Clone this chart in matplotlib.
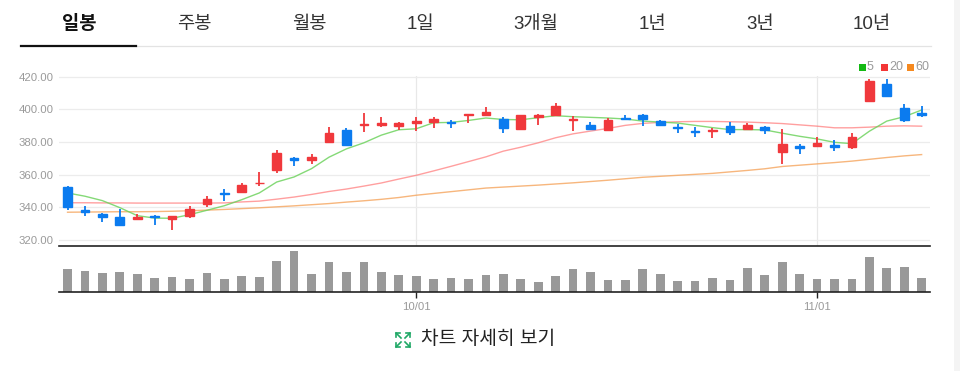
import matplotlib
matplotlib.use("Agg")
import matplotlib.pyplot as plt
from matplotlib.lines import Line2D
from matplotlib.patches import Rectangle

plt.rcParams['font.family'] = ['Liberation Sans', 'Noto Sans CJK KR', 'DejaVu Sans']

# daily candles (50 trading days), prices
opens = [352.3, 338.6, 336.1, 334.1, 333.1, 334.9, 332.9, 334.5, 342.1, 348.6,
         349.6, 354.8, 362.8, 370.5, 369.0, 379.9, 387.1, 390.4, 390.6, 389.7,
         391.4, 392.2, 392.4, 396.7, 396.7, 394.3, 387.9, 395.3, 396.5, 393.2,
         390.6, 387.5, 394.7, 396.5, 392.6, 389.3, 386.7, 386.7, 389.5, 388.2,
         389.3, 373.8, 377.3, 377.7, 378.3, 376.7, 404.9, 415.3, 400.8, 397.5]
highs = [352.9, 340.6, 336.3, 339.0, 335.9, 335.1, 334.9, 341.0, 347.2, 351.5,
         354.6, 361.7, 374.8, 371.1, 372.9, 389.3, 388.3, 397.5, 395.5, 392.4,
         395.3, 395.5, 393.6, 397.3, 401.2, 395.1, 396.7, 397.3, 403.7, 395.9,
         392.4, 394.5, 396.7, 396.9, 393.2, 391.2, 389.1, 388.6, 392.2, 391.5,
         390.1, 388.0, 378.8, 383.3, 381.0, 385.8, 418.6, 418.8, 403.1, 401.9]
lows = [338.2, 334.9, 330.8, 328.3, 332.9, 329.1, 325.9, 333.6, 340.0, 344.1,
        349.2, 352.9, 361.3, 365.5, 366.8, 379.3, 377.4, 386.3, 389.3, 387.3,
        386.7, 388.5, 388.5, 391.8, 396.3, 385.4, 387.5, 390.4, 396.1, 386.5,
        387.3, 387.1, 393.2, 389.7, 389.5, 385.6, 383.0, 382.2, 384.1, 387.2,
        385.2, 366.6, 372.6, 376.7, 374.6, 375.5, 404.5, 407.6, 392.4, 395.3]
closes = [340.2, 336.9, 333.9, 328.9, 334.3, 334.1, 334.7, 339.2, 345.3, 348.2,
          353.5, 355.2, 373.0, 369.2, 371.1, 385.8, 378.1, 391.0, 391.6, 391.8,
          392.6, 393.8, 391.6, 397.1, 398.6, 388.3, 396.3, 396.7, 401.8, 393.8,
          387.9, 393.2, 394.0, 394.0, 390.6, 388.7, 386.1, 387.3, 386.0, 390.3,
          387.6, 379.0, 376.5, 379.6, 376.9, 383.1, 417.1, 408.0, 393.2, 396.7]

# moving averages
ma5 = [348.8, 346.8, 344.1, 339.8, 334.9, 333.4, 333.3, 335.5, 338.2, 341.0,
       344.7, 348.8, 355.5, 358.6, 363.7, 370.7, 375.8, 379.5, 384.2, 387.5,
       388.1, 391.8, 392.0, 393.2, 394.7, 393.8, 393.6, 394.9, 396.1, 395.5,
       395.1, 394.7, 394.1, 392.8, 392.2, 391.6, 390.2, 388.8, 387.6, 387.6,
       387.4, 385.4, 383.5, 381.9, 379.8, 379.0, 386.6, 392.8, 395.5, 399.6]
ma20 = [342.8, 342.8, 342.7, 342.7, 342.6, 342.6, 342.6, 342.6, 342.6, 342.7,
        343.3, 343.8, 345.0, 346.3, 347.9, 349.7, 351.2, 353.0, 354.9, 357.3,
        359.6, 362.3, 365.1, 368.0, 370.9, 374.4, 376.8, 379.5, 382.6, 385.0,
        386.7, 388.3, 390.2, 391.4, 392.0, 392.4, 392.6, 392.6, 392.4, 392.2,
        391.8, 391.3, 390.5, 389.7, 388.7, 388.7, 389.1, 389.7, 389.9, 389.7]
ma60 = [337.0, 337.1, 337.2, 337.3, 337.3, 337.4, 337.6, 337.9, 338.3, 338.7,
        339.2, 339.7, 340.3, 340.9, 341.6, 342.3, 343.2, 344.0, 344.9, 346.0,
        347.4, 348.5, 349.6, 350.7, 351.8, 352.4, 353.0, 353.6, 354.3, 355.0,
        355.8, 356.6, 357.5, 358.4, 359.0, 359.6, 360.2, 360.8, 361.7, 362.6,
        363.6, 365.0, 365.8, 366.6, 367.4, 368.3, 369.4, 370.5, 371.5, 372.3]

# volume (thousand shares)
volume = [233, 213, 193, 203, 183, 143, 150, 133, 193, 130,
          163, 153, 313, 413, 183, 303, 203, 300, 203, 173,
          163, 133, 143, 130, 173, 183, 133, 103, 163, 230,
          203, 123, 123, 230, 183, 116, 116, 143, 123, 243,
          170, 303, 183, 130, 133, 133, 353, 243, 253, 143]

tick_pos = [20, 43]
tick_labels = ["10/01", "11/01"]
tabs = ["일봉", "주봉", "월봉", "1일", "3개월", "1년", "3년", "10년"]
tab_x = [79, 194, 309, 420, 536, 652, 760, 872]

RED = "#f0383c"
BLUE = "#0b7bef"
W, H = 960, 371


def rect(x0, y0, x1, y1):
    return [x0 / W, 1 - y1 / H, (x1 - x0) / W, (y1 - y0) / H]


def fx(x):
    return x / W


def fy(y):
    return 1 - y / H


fig = plt.figure(figsize=(9.6, 3.71), dpi=100)

# price panel
ax = fig.add_axes(rect(59, 76.2, 930, 245.7))
x = list(range(len(opens)))
colors = [RED if c >= o else BLUE for o, c in zip(opens, closes)]
bottoms = [min(o, c) for o, c in zip(opens, closes)]
heights = [abs(c - o) for o, c in zip(opens, closes)]

ax.set_yticks([320, 340, 360, 380, 400, 420])
ax.set_yticklabels([f"{v:.2f}" for v in [320, 340, 360, 380, 400, 420]])
ax.grid(axis='y', color='#ececec', lw=0.9)
for t in tick_pos:
    ax.axvline(t, color='#e8e8e8', lw=0.9, zorder=0)
ax.plot(x, ma60, color='#f5a45c', lw=1.0, alpha=0.8)
ax.plot(x, ma20, color='#f77', lw=1.0, alpha=0.7)
ax.plot(x, ma5, color='#6fd35f', lw=1.0, alpha=0.85)
ax.vlines(x, lows, highs, color=colors, lw=1.3, zorder=3)
ax.bar(x, heights, bottom=bottoms, width=0.5, color=colors,
       edgecolor=colors, lw=1.0, zorder=4)
ax.set_xlim(-0.49, 49.48)
ax.set_ylim(316.5, 420.3)
ax.set_xticks([])
for s in ax.spines.values():
    s.set_visible(False)
ax.tick_params(axis='y', length=0, labelsize=8.2, labelcolor='#9a9a9a', pad=4)

# volume panel
vax = fig.add_axes(rect(59, 245.7, 930, 292.3))
vax.bar(x, volume, width=0.5, color='#999999')
vax.set_xlim(-0.49, 49.48)
vax.set_ylim(0, 466)
vax.set_yticks([])
vax.set_xticks(tick_pos)
vax.set_xticklabels(tick_labels)
vax.tick_params(axis='x', length=4, width=1, color='#222', labelsize=8.2,
                labelcolor='#9a9a9a', pad=3)
for side in ['left', 'right']:
    vax.spines[side].set_visible(False)
vax.spines['top'].set_color('#222')
vax.spines['bottom'].set_color('#222')
vax.spines['top'].set_linewidth(1.2)
vax.spines['bottom'].set_linewidth(1.2)

# tabs
for i, (label, tx) in enumerate(zip(tabs, tab_x)):
    if i == 0:
        fig.text(fx(tx), fy(24), label, ha='center', va='center',
                 fontsize=13.5, fontweight='bold', color='#111')
    else:
        fig.text(fx(tx), fy(24), label, ha='center', va='center',
                 fontsize=13.5, color='#333')
fig.add_artist(Line2D([fx(136), fx(931)], [fy(46)] * 2, color='#e3e3e3', lw=0.9))
fig.add_artist(Line2D([fx(21), fx(136)], [fy(46)] * 2, color='#111', lw=1.6))
fig.add_artist(Rectangle((fx(954), 0), fx(6), 1, color='#f4f4f4', lw=0))

# legend
for sq, col, lab in [(859, '#13b913', '5'), (881, '#f33636', '20'), (907, '#f5891f', '60')]:
    fig.add_artist(Rectangle((fx(sq), fy(70.5)), fx(6.5), 6.5 / H, color=col, lw=0))
    fig.text(fx(sq + 8), fy(67), lab, ha='left', va='center', fontsize=9, color='#9a9a9a')

# "차트 자세히 보기" button with expand icon
g = '#1fa866'
ix0, iy0, ix1, iy1 = 396, 333, 410, 347
corners = [(ix0, iy0, 1, 1), (ix1, iy0, -1, 1), (ix0, iy1, 1, -1), (ix1, iy1, -1, -1)]
for cx, cy, dx, dy in corners:
    fig.add_artist(Line2D([fx(cx), fx(cx), fx(cx + 4 * dx)],
                          [fy(cy + 4 * dy), fy(cy), fy(cy)], color=g, lw=1.2))
    fig.add_artist(Line2D([fx(cx), fx(cx + 5 * dx)], [fy(cy), fy(cy + 5 * dy)],
                          color=g, lw=1.2))
fig.text(fx(421), fy(339), "차트 자세히 보기", ha='left', va='center',
         fontsize=13.8, color='#222')

fig.savefig("out.png", dpi=100)
